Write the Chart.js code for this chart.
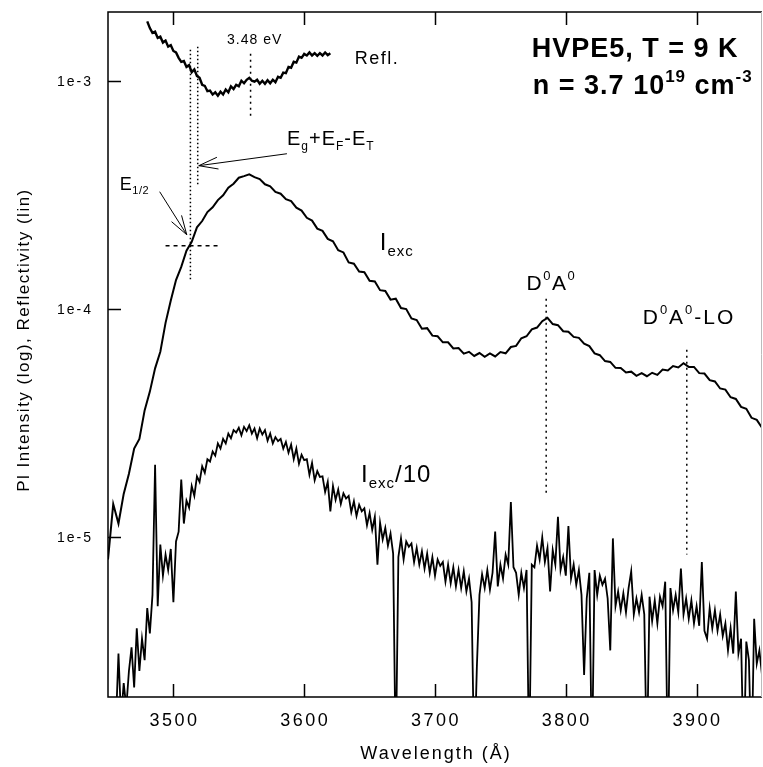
<!DOCTYPE html>
<html>
<head>
<meta charset="utf-8">
<script src="https://cdn.jsdelivr.net/npm/chart.js@4.4.1/dist/chart.umd.min.js"></script>
<style>
  html, body { margin: 0; background: #fff; }
  #wrap { width: 763px; height: 767px; }
</style>
</head>
<body>
<div id="wrap"><canvas id="c"></canvas></div>
<script>
// PL spectra of HVPE5 at 9 K — intensity (log) and reflectivity vs wavelength.
// All intensities below are in units of 1e-6 (multiplied by UNIT when plotted).

const UNIT = 1e-6;
const xTicks = [3500, 3600, 3700, 3800, 3900];
const yTicks = [1e-5, 1e-4, 1e-3];

// reflectivity, 3480..3620 Å every 2 Å
const reflStart = 3480, reflStep = 2;
const refl = [
  1820, 1700, 1620, 1640, 1540, 1560, 1470, 1500, 1410, 1430,
  1350, 1330, 1260, 1210, 1220, 1150, 1170, 1090, 1120, 1050,
  1030, 960, 950, 900, 905, 870, 890, 860, 895, 870,
  915, 890, 945, 920, 960, 945, 1000, 975, 1010, 1030,
  1000, 990, 1010, 970, 1000, 970, 1005, 975, 1010, 985,
  1040, 1030, 1085, 1080, 1150, 1140, 1210, 1200, 1275, 1260,
  1310, 1290, 1330, 1290, 1320, 1285, 1320, 1290, 1330, 1295,
  1320,
];

// I_exc, 3450..3950 Å every 4 Å
const excStart = 3450, excStep = 4;
const exc = [
  8.0, 14.0, 11.5, 15.5, 19.0, 24.5, 27.0, 36.0, 43.5, 55.0,
  65.0, 87.0, 109, 134, 153, 180, 197, 228, 243, 266,
  279, 300, 315, 340, 354, 376, 382, 389, 378, 371,
  352, 345, 326, 320, 303, 297, 278, 270, 251, 244,
  225, 220, 203, 198, 181, 177, 160, 158, 146, 145,
  133, 132, 121, 120, 110, 111, 101, 100, 91, 89.5,
  82, 82.5, 76.5, 76, 71.5, 71.5, 67.2, 67.5, 63.8, 65,
  62.3, 64.2, 61.8, 64, 62, 64.8, 64, 68.2, 69, 74.5,
  76, 81.5, 83, 88.5, 91.5, 86, 85, 80, 79.5, 75.5,
  74.8, 70.5, 68.8, 64, 62.8, 59.2, 58.7, 55.3, 55.2, 52.8,
  53.2, 51, 52.4, 50.8, 52.6, 51.5, 54.3, 53.8, 56.3, 55.5,
  57.9, 55.8, 55.8, 52.4, 52.2, 48.8, 48.2, 44.9, 44.4, 41.1,
  40.4, 37.3, 36.6, 33.4, 32.7, 30.2,
];

// I_exc/10 (low excitation), 3456..3950 Å every 2 Å
const div10Start = 3456, div10Step = 2;
const excDiv10 = [
  1.5, 3.1, 1.6, 2.3, 1.8, 2.6, 3.3, 2.2, 4.0, 2.6,
  3.6, 2.9, 4.9, 3.8, 5.6, 20.8, 5.0, 9.3, 6.8, 8.4,
  7.2, 8.9, 5.2, 9.6, 10.6, 17.9, 11.5, 14.5, 13.5, 16.8,
  15.2, 18.5, 17.5, 20.5, 19.2, 22.0, 21.5, 23.8, 22.8, 25.8,
  24.5, 27.0, 25.8, 28.5, 27.2, 29.5, 28.8, 30.2, 28.0, 30.5,
  29.2, 31.0, 28.5, 30.0, 27.2, 30.0, 28.2, 29.5, 26.5, 28.5,
  25.8, 27.5, 26.4, 27.0, 24.5, 26.2, 23.5, 25.5, 22.0, 24.5,
  21.0, 23.0, 21.8, 22.0, 18.8, 21.2, 17.8, 19.5, 18.4, 18.5,
  15.8, 17.5, 13.0, 16.8, 14.6, 16.2, 14.0, 15.6, 14.8, 15.2,
  12.9, 14.4, 12.4, 13.9, 13.0, 13.4, 11.3, 12.8, 10.8, 12.3,
  7.6, 11.6, 9.8, 11.0, 9.2, 10.4, 8.5, 1.0, 8.2, 9.9,
  8.0, 9.6, 9.1, 9.4, 7.8, 9.0, 7.6, 8.7, 7.3, 8.5,
  7.0, 8.2, 6.8, 8.0, 7.5, 7.8, 6.4, 7.6, 6.3, 7.4,
  6.1, 7.2, 6.0, 7.1, 5.8, 6.6, 5.2, 1.0, 2.7, 5.6,
  6.9, 6.0, 7.2, 5.9, 7.0, 10.6, 6.1, 7.6, 6.6, 8.4,
  7.6, 14.3, 7.4, 7.0, 5.6, 7.0, 6.0, 7.2, 1.0, 7.6,
  7.4, 9.2, 8.0, 10.0, 7.8, 9.0, 5.8, 8.8, 7.6, 12.3,
  7.2, 8.2, 6.8, 11.2, 6.6, 7.6, 6.2, 7.2, 5.6, 2.5,
  5.4, 7.0, 1.0, 7.2, 5.6, 6.8, 6.2, 6.6, 5.4, 3.2,
  9.9, 5.0, 5.8, 4.8, 5.7, 4.7, 6.0, 7.1, 4.6, 5.4,
  4.7, 5.6, 4.6, 1.0, 5.5, 4.3, 5.3, 4.2, 5.5, 5.0,
  6.4, 1.0, 6.0, 4.8, 5.6, 4.7, 7.3, 4.6, 5.4, 4.4,
  5.3, 4.2, 5.0, 4.1, 7.8, 3.9, 3.6, 4.9, 4.0, 4.8,
  3.9, 4.6, 3.7, 4.2, 3.2, 4.0, 3.1, 5.8, 3.1, 3.6,
  1.0, 3.5, 2.9, 1.0, 4.4, 2.8, 3.2, 2.5,
];

// annotations, in data units (wavelength, intensity)
const markLines = [
  { from: [3513, 1.367e-3], to: [3513, 1.345e-4], dash: [1.5, 2.5] },     // E1/2
  { from: [3518.6, 1.409e-3], to: [3518.6, 3.435e-4], dash: [1.5, 2.5] }, // Eg+EF-ET
  { from: [3559, 1.313e-3], to: [3559, 6.75e-4], dash: [2, 4] },          // 3.48 eV
  { from: [3494, 1.895e-4], to: [3534.7, 1.895e-4], dash: [4, 4] },
  { from: [3785, 1.11e-4], to: [3785, 1.539e-5], dash: [2, 4] },          // D0A0
  { from: [3892.5, 6.64e-5], to: [3892.5, 8.41e-6], dash: [2, 4] },       // D0A0-LO
];
const arrows = [
  { from: [3586.8, 4.79e-4], to: [3519.4, 4.245e-4] },
  { from: [3489.5, 3.266e-4], to: [3510.2, 2.117e-4] },
];
const notes = [
  { at: [3541, 1.452e-3], size: 14, spacing: 1, parts: [["3.48 eV"]] },
  { at: [3638.6, 1.187e-3], size: 18, spacing: 1.5, parts: [["Refl."]] },
  { at: [3774, 1.274e-3], size: 27, spacing: 1, bold: true, parts: [["HVPE5, T = 9 K"]] },
  { at: [3774.8, 0.877e-3], size: 27, spacing: 1, bold: true,
    parts: [["n = 3.7 10"], ["19", "sup"], [" cm"], ["-3", "sup"]] },
  { at: [3586.8, 5.245e-4], size: 20, spacing: 1,
    parts: [["E"], ["g", "sub"], ["+E"], ["F", "sub"], ["-E"], ["T", "sub"]] },
  { at: [3459, 3.333e-4], size: 18, spacing: 0.5, parts: [["E"], ["1/2", "sub"]] },
  { at: [3657.8, 1.82e-4], size: 24, spacing: 1, parts: [["I"], ["exc", "sub"]] },
  { at: [3770, 1.216e-4], size: 21, spacing: 1.5, parts: [["D"], ["0", "sup"], ["A"], ["0", "sup"]] },
  { at: [3858.8, 8.63e-5], size: 21, spacing: 2,
    parts: [["D"], ["0", "sup"], ["A"], ["0", "sup"], ["-LO"]] },
  { at: [3643.5, 1.755e-5], size: 24, spacing: 1, parts: [["I"], ["exc", "sub"], ["/10"]] },
];

const FONT = '"Liberation Sans", Arial, sans-serif';

function series(start, step, vals) {
  return vals.map((v, i) => ({ x: start + i * step, y: v * UNIT }));
}

function richText(ctx, x, y, parts, size, bold, spacing) {
  ctx.letterSpacing = (spacing || 0) + "px";
  let cx = x;
  for (const [t, mode] of parts) {
    const s = mode ? Math.round(size * 0.62) : size;
    const dy = mode === "sub" ? size * 0.25 : mode === "sup" ? -size * 0.45 : 0;
    ctx.font = (bold ? "bold " : "") + s + "px " + FONT;
    ctx.fillText(t, cx, y + dy);
    cx += ctx.measureText(t).width;
  }
}

// ---------- frame, ticks, labels, annotations ----------
const decor = {
  id: "decor",
  afterDraw(chart) {
    const { ctx, chartArea: a, scales: { x, y } } = chart;
    const P = (p) => [x.getPixelForValue(p[0]), y.getPixelForValue(p[1])];
    ctx.save();
    ctx.strokeStyle = "#000";
    ctx.fillStyle = "#000";

    // frame
    ctx.lineWidth = 1.5;
    ctx.beginPath();
    ctx.moveTo(a.right, a.top); ctx.lineTo(a.left, a.top);
    ctx.lineTo(a.left, a.bottom); ctx.lineTo(a.right, a.bottom);
    ctx.stroke();
    ctx.strokeStyle = "#bbb";
    ctx.lineWidth = 1;
    ctx.beginPath();
    ctx.moveTo(a.right - 0.5, a.top); ctx.lineTo(a.right - 0.5, a.bottom);
    ctx.stroke();

    // inward tick marks
    ctx.strokeStyle = "#000";
    ctx.lineWidth = 1.5;
    ctx.beginPath();
    xTicks.forEach((t) => {
      const px = Math.round(x.getPixelForValue(t)) + 0.5;
      ctx.moveTo(px, a.bottom); ctx.lineTo(px, a.bottom - 13);
      ctx.moveTo(px, a.top); ctx.lineTo(px, a.top + 13);
    });
    yTicks.forEach((t) => {
      const py = Math.round(y.getPixelForValue(t)) + 0.5;
      ctx.moveTo(a.left, py); ctx.lineTo(a.left + 13, py);
    });
    ctx.stroke();

    // tick labels
    ctx.textBaseline = "middle";
    ctx.textAlign = "right";
    ctx.font = "14px " + FONT;
    ctx.letterSpacing = "2px";
    yTicks.forEach((t) => {
      const exp = Math.round(Math.log10(t));
      ctx.fillText("1e" + exp, a.left - 15, y.getPixelForValue(t) + 1);
    });
    ctx.textAlign = "center";
    ctx.textBaseline = "alphabetic";
    ctx.font = "18px " + FONT;
    ctx.letterSpacing = "2.5px";
    xTicks.forEach((t) => ctx.fillText(String(t), x.getPixelForValue(t) + 1, a.bottom + 29));

    // axis titles
    ctx.font = "18px " + FONT;
    ctx.letterSpacing = "2px";
    ctx.fillText("Wavelength (Å)", 436, 759);
    ctx.save();
    ctx.translate(24, 340);
    ctx.rotate(-Math.PI / 2);
    ctx.textBaseline = "middle";
    ctx.font = "17px " + FONT;
    ctx.letterSpacing = "1.5px";
    ctx.fillText("Pl Intensity (log), Reflectivity (lin)", 0, 0);
    ctx.restore();

    // dotted / dashed marker lines
    ctx.lineWidth = 1.5;
    markLines.forEach((m) => {
      const [x1, y1] = P(m.from), [x2, y2] = P(m.to);
      ctx.setLineDash(m.dash);
      ctx.beginPath();
      ctx.moveTo(x1, y1); ctx.lineTo(x2, y2);
      ctx.stroke();
    });
    ctx.setLineDash([]);

    // arrows
    ctx.lineWidth = 1;
    arrows.forEach((ar) => {
      const [x1, y1] = P(ar.from), [x2, y2] = P(ar.to);
      const ang = Math.atan2(y2 - y1, x2 - x1);
      ctx.beginPath();
      ctx.moveTo(x1, y1); ctx.lineTo(x2, y2);
      [0.3, -0.3].forEach((d) => {
        ctx.moveTo(x2, y2);
        ctx.lineTo(x2 - 20 * Math.cos(ang + d), y2 - 20 * Math.sin(ang + d));
      });
      ctx.stroke();
    });

    // text notes
    ctx.textAlign = "left";
    ctx.textBaseline = "alphabetic";
    notes.forEach((n) => {
      const [px, py] = P(n.at);
      richText(ctx, px, py, n.parts, n.size, n.bold, n.spacing);
    });
    ctx.restore();
  },
};

const line = (data, width) => ({
  data, borderColor: "#000", borderWidth: width, pointRadius: 0, tension: 0, fill: false,
});

new Chart(document.getElementById("c"), {
  type: "line",
  data: {
    datasets: [
      line(series(reflStart, reflStep, refl), 2.4),
      line(series(excStart, excStep, exc), 2.0),
      line(series(div10Start, div10Step, excDiv10), 1.8),
    ],
  },
  options: {
    responsive: true, maintainAspectRatio: false, animation: false,
    layout: { padding: { top: 12, right: 1, left: 0, bottom: 0 } },
    plugins: { legend: { display: false }, tooltip: { enabled: false } },
    scales: {
      x: {
        type: "linear", min: 3450, max: 3950,
        grid: { display: false, drawTicks: false }, border: { display: false },
        ticks: { display: false },
        afterBuildTicks: (s) => { s.ticks = xTicks.map((v) => ({ value: v })); },
        afterFit: (s) => { s.height = 70; },
      },
      y: {
        type: "logarithmic", min: 2e-6, max: 2e-3,
        grid: { display: false, drawTicks: false }, border: { display: false },
        ticks: { display: false },
        afterBuildTicks: (s) => { s.ticks = yTicks.map((v) => ({ value: v })); },
        afterFit: (s) => { s.width = 108; },
      },
    },
  },
  plugins: [decor],
});
</script>
</body>
</html>
